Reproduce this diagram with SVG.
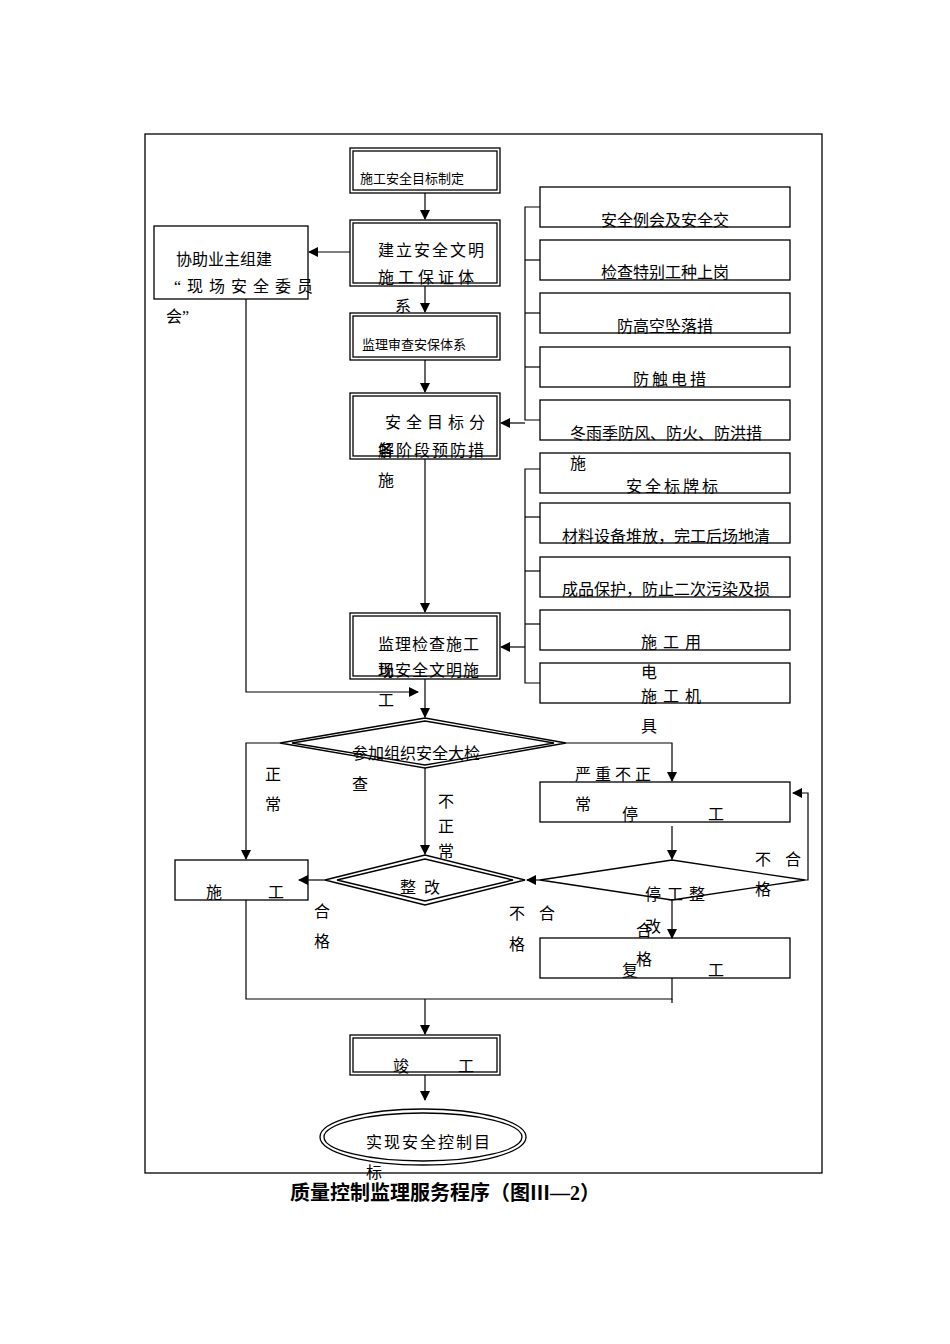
<svg xmlns="http://www.w3.org/2000/svg" width="950" height="1344" viewBox="0 0 950 1344">
<defs>
<style>
text{font-family:"Liberation Serif","Noto Sans CJK SC",serif;fill:#000}
.t{font-size:16px}
.s{font-size:13px}
.b{fill:none;stroke:#000;stroke-width:1.3}
.l{fill:none;stroke:#000;stroke-width:1.2}
</style>
<marker id="a" markerWidth="10" markerHeight="10" refX="9" refY="5" orient="auto" markerUnits="userSpaceOnUse"><path d="M0,0L10,5L0,10Z" fill="#000"/></marker>
</defs>
<rect width="950" height="1344" fill="#fff"/>
<rect x="145" y="134" width="677" height="1039" class="b" stroke-width="1.6"/>
<g id="connectors" class="l">
<line x1="425" y1="193" x2="425" y2="219" marker-end="url(#a)"/>
<line x1="350" y1="252" x2="309" y2="252" marker-end="url(#a)"/>
<line x1="425" y1="286" x2="425" y2="312" marker-end="url(#a)"/>
<line x1="425" y1="360" x2="425" y2="392" marker-end="url(#a)"/>
<polyline points="540,207 525,207 525,420 540,420"/>
<line x1="525" y1="260" x2="540" y2="260"/><line x1="525" y1="313" x2="540" y2="313"/><line x1="525" y1="367" x2="540" y2="367"/>
<line x1="525" y1="423" x2="501" y2="423" marker-end="url(#a)"/>
<polyline points="540,469 525,469 525,683 540,683"/>
<line x1="525" y1="517" x2="540" y2="517"/><line x1="525" y1="571" x2="540" y2="571"/><line x1="525" y1="624" x2="540" y2="624"/>
<line x1="525" y1="647" x2="501" y2="647" marker-end="url(#a)"/>
<line x1="425" y1="459" x2="425" y2="612" marker-end="url(#a)"/>
<polyline points="246,299 246,692 418,692" marker-end="url(#a)"/>
<line x1="425" y1="679" x2="425" y2="717" marker-end="url(#a)"/>
<polyline points="280,743 246,743 246,859" marker-end="url(#a)"/>
<polyline points="566,743 672,743 672,781" marker-end="url(#a)"/>
<line x1="425" y1="768" x2="425" y2="854" marker-end="url(#a)"/>
<line x1="325" y1="880" x2="299" y2="880" marker-end="url(#a)"/>
<line x1="672" y1="826" x2="672" y2="859" marker-end="url(#a)"/>
<line x1="540" y1="880" x2="527" y2="880" marker-end="url(#a)"/>
<polyline points="805,880 808,880 808,793 793,793" marker-end="url(#a)"/>
<line x1="672" y1="900" x2="672" y2="938" marker-end="url(#a)"/>
<polyline points="246,900 246,999 672,999 672,978"/>
<line x1="672" y1="999" x2="672" y2="1003"/>
<line x1="425" y1="999" x2="425" y2="1034" marker-end="url(#a)"/>
<line x1="425" y1="1075" x2="425" y2="1100" marker-end="url(#a)"/>
</g>
<g id="n1"><rect x="350" y="148" width="150" height="45" class="b"/><rect x="353" y="151" width="144" height="39" class="b"/><text x="360" y="183" class="s">施工安全目标制定</text></g>
<g id="n2"><rect x="350" y="220" width="150" height="66" class="b"/><rect x="353" y="223" width="144" height="60" class="b"/><text x="378" y="256" class="t" letter-spacing="2">建立安全文明</text><text x="378" y="283" class="t" letter-spacing="4">施工保证体</text><text x="395" y="312" class="t">系</text></g>
<g id="n3"><rect x="154" y="226" width="154" height="73" class="b"/><text x="176" y="265" class="t">协助业主组建</text><text x="174" y="292" class="t" letter-spacing="1">“ 现 场 安 全 委 员</text><text x="166" y="322" class="t">会”</text></g>
<g id="n4"><rect x="350" y="313" width="150" height="47" class="b"/><rect x="353" y="316" width="144" height="41" class="b"/><text x="362" y="349" class="s">监理审查安保体系</text></g>
<g id="n5"><rect x="350" y="393" width="150" height="66" class="b"/><rect x="353" y="396" width="144" height="60" class="b"/><text x="385" y="428" class="t" letter-spacing="5">安全目标分</text><text x="378" y="456" class="t">解</text><text x="378" y="456" class="t" letter-spacing="2">各阶段预防措</text><text x="378" y="486" class="t">施</text></g>
<g id="r1"><rect x="540" y="187" width="250" height="40" class="b"/><text x="601" y="226" class="t">安全例会及安全交</text></g>
<g id="r2"><rect x="540" y="240" width="250" height="40" class="b"/><text x="601" y="278" class="t">检查特别工种上岗</text></g>
<g id="r3"><rect x="540" y="293" width="250" height="40" class="b"/><text x="617" y="332" class="t">防高空坠落措</text></g>
<g id="r4"><rect x="540" y="347" width="250" height="40" class="b"/><text x="633" y="385" class="t" letter-spacing="3">防触电措</text></g>
<g id="r5"><rect x="540" y="400" width="250" height="40" class="b"/><text x="570" y="439" class="t">冬雨季防风、防火、防洪措</text><text x="570" y="469" class="t">施</text></g>
<g id="r6"><rect x="540" y="453" width="250" height="40" class="b"/><text x="626" y="492" class="t" letter-spacing="3">安全标牌标</text></g>
<g id="r7"><rect x="540" y="503" width="250" height="40" class="b"/><text x="562" y="542" class="t">材料设备堆放，完工后场地清</text></g>
<g id="r8"><rect x="540" y="557" width="250" height="40" class="b"/><text x="562" y="595" class="t">成品保护，防止二次污染及损</text></g>
<g id="r9"><rect x="540" y="610" width="250" height="40" class="b"/><text x="641" y="648" class="t" letter-spacing="6">施工用</text><text x="641" y="678" class="t">电</text></g>
<g id="r10"><rect x="540" y="663" width="250" height="40" class="b"/><text x="641" y="702" class="t" letter-spacing="6">施工机</text><text x="641" y="732" class="t">具</text></g>
<g id="n6"><rect x="350" y="613" width="150" height="66" class="b"/><rect x="353" y="616" width="144" height="60" class="b"/><text x="378" y="650" class="t" letter-spacing="1">监理检查施工</text><text x="378" y="676" class="t">现</text><text x="378" y="676" class="t" letter-spacing="1">场安全文明施</text><text x="378" y="706" class="t">工</text></g>
<g id="d1"><polygon points="280,743 425,718 566,743 425,768" class="b"/><polygon points="292,743 425,721 554,743 425,765" class="b"/><text x="352" y="759" class="t">参加组织安全大检</text><text x="352" y="790" class="t">查</text></g>
<g id="lab" class="t">
<text x="265" y="780">正</text><text x="265" y="810">常</text>
<text x="575" y="780" letter-spacing="4">严重不正</text><text x="575" y="810">常</text>
<text x="438" y="807">不</text><text x="438" y="832">正</text><text x="438" y="857">常</text>
<text x="314" y="917">合</text><text x="314" y="947">格</text>
<text x="509" y="919" letter-spacing="14">不合</text><text x="509" y="950">格</text>
<text x="755" y="865" letter-spacing="14">不合</text><text x="755" y="895">格</text>
</g>
<g id="n7"><rect x="175" y="860" width="133" height="40" class="b"/><text x="206" y="898" class="t">施</text><text x="268" y="898" class="t">工</text></g>
<g id="d2"><polygon points="325,880 425,855 525,880 425,905" class="b"/><polygon points="337,880 425,859 513,880 425,901" class="b"/><text x="400" y="893" class="t" letter-spacing="8">整改</text></g>
<g id="n8"><rect x="540" y="782" width="250" height="40" class="b"/><text x="622" y="820" class="t">停</text><text x="708" y="820" class="t">工</text></g>
<g id="d3"><polygon points="540,880 672,860 805,880 672,900" class="b"/><text x="645" y="900" class="t" letter-spacing="6">停工整</text><text x="645" y="932" class="t">改</text><text x="636" y="936" class="t">合</text><text x="636" y="965" class="t">格</text></g>
<g id="n9"><rect x="540" y="938" width="250" height="40" class="b"/><text x="622" y="976" class="t">复</text><text x="708" y="976" class="t">工</text></g>
<g id="n10"><rect x="350" y="1035" width="150" height="40" class="b"/><rect x="353" y="1038" width="144" height="34" class="b"/><text x="393" y="1072" class="t">竣</text><text x="458" y="1072" class="t">工</text></g>
<g id="n11"><ellipse cx="423" cy="1137" rx="103" ry="28" class="b"/><ellipse cx="423" cy="1137" rx="99" ry="24" class="b"/><text x="366" y="1148" class="t" letter-spacing="2">实现安全控制目</text><text x="366" y="1178" class="t">标</text></g>
<text x="290" y="1200" font-size="20" font-weight="bold">质量控制监理服务程序（图Ⅲ—2）</text>
</svg>
